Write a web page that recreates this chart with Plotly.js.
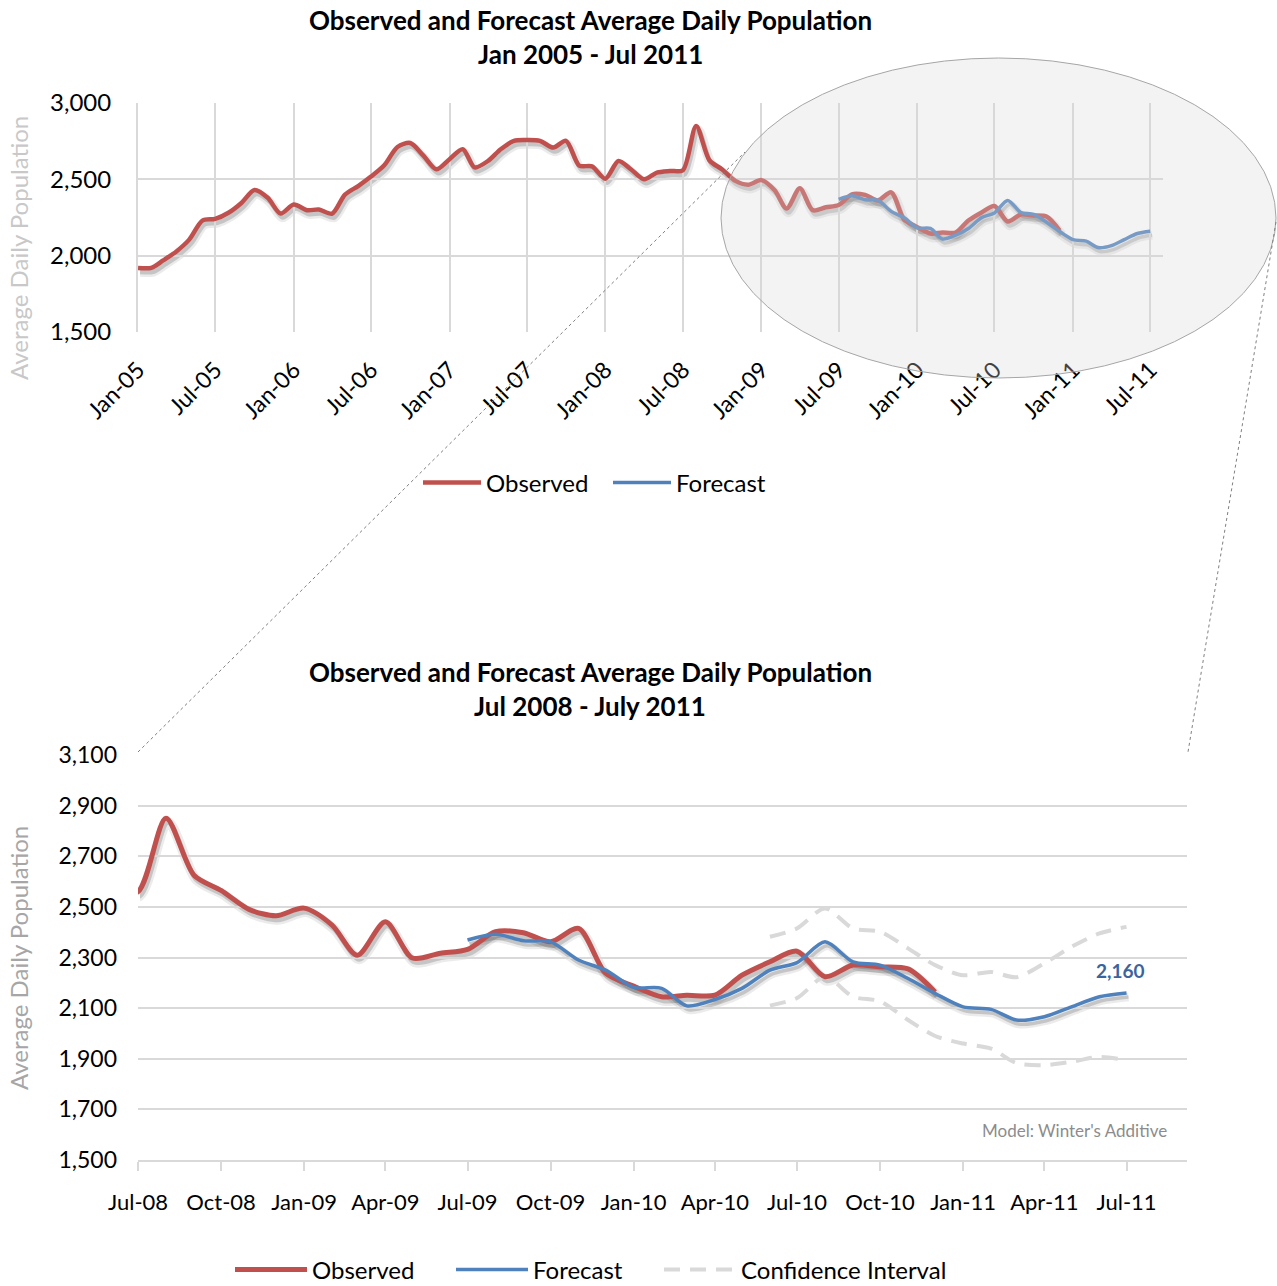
<!DOCTYPE html>
<html><head><meta charset="utf-8">
<script src="https://cdn.plot.ly/plotly-3.0.1.min.js"></script>
<style>html,body{margin:0;padding:0;background:#fff;width:1277px;height:1286px;overflow:hidden}#chart{width:1277px;height:1300px;position:absolute;left:0;top:0}</style>
</head><body><div id="chart"></div>
<script>
// ---- data ----
const obsMonths = [
 '2005-01','2005-02','2005-03','2005-04','2005-05','2005-06','2005-07','2005-08','2005-09','2005-10','2005-11','2005-12',
 '2006-01','2006-02','2006-03','2006-04','2006-05','2006-06','2006-07','2006-08','2006-09','2006-10','2006-11','2006-12',
 '2007-01','2007-02','2007-03','2007-04','2007-05','2007-06','2007-07','2007-08','2007-09','2007-10','2007-11','2007-12',
 '2008-01','2008-02','2008-03','2008-04','2008-05','2008-06','2008-07','2008-08','2008-09','2008-10','2008-11','2008-12',
 '2009-01','2009-02','2009-03','2009-04','2009-05','2009-06','2009-07','2009-08','2009-09','2009-10','2009-11','2009-12',
 '2010-01','2010-02','2010-03','2010-04','2010-05','2010-06','2010-07','2010-08','2010-09','2010-10','2010-11','2010-12'];
const observed = [
 1920,1920,1969,2028,2105,2230,2241,2281,2347,2430,2379,2276,
 2335,2298,2302,2276,2400,2456,2518,2592,2712,2738,2655,2566,
 2632,2697,2578,2620,2697,2752,2757,2752,2708,2752,2590,2585,
 2504,2620,2566,2500,2544,2555,2560,2850,2625,2565,2490,2465,
 2495,2428,2309,2441,2298,2317,2332,2402,2398,2362,2415,2238,
 2187,2145,2151,2151,2230,2283,2325,2224,2270,2263,2255,2164];
const fcMonths = [
 '2009-07','2009-08','2009-09','2009-10','2009-11','2009-12',
 '2010-01','2010-02','2010-03','2010-04','2010-05','2010-06','2010-07','2010-08','2010-09','2010-10','2010-11','2010-12',
 '2011-01','2011-02','2011-03','2011-04','2011-05','2011-06','2011-07'];
const forecast = [
 2369,2392,2366,2362,2290,2250,
 2182,2178,2109,2134,2178,2250,2280,2362,2283,2270,2217,2158,
 2105,2095,2053,2066,2105,2145,2160];
const ciMonths = ['2010-06','2010-07','2010-08','2010-09','2010-10','2010-11','2010-12',
 '2011-01','2011-02','2011-03','2011-04','2011-05','2011-06','2011-07'];
const ciUpper = [2382,2415,2494,2415,2402,2336,2270,2230,2243,2222,2277,2342,2395,2421];
const ciLower = [2110,2140,2224,2145,2127,2053,1990,1960,1940,1883,1875,1888,1907,1894];

const topTitle = ['Observed and Forecast Average Daily Population','Jan 2005 - Jul 2011'];
const botTitle = ['Observed and Forecast Average Daily Population','Jul 2008 - July 2011'];
const yTitle = 'Average Daily Population';
const modelNote = "Model: Winter's Additive";

// ---- styling ----
const FONT = 'Lato, "Open Sans", sans-serif';
const W = 1277, H = 1300; // figure is slightly taller than the window; the page clips it at 1286
const px = x => x / W, py = y => 1 - y / H;
const RED = '#c0504d', BLUE = '#4f81bd', GRID = '#d9d9d9', CI = '#d9d9d9';
const SH_DX = 2, SH_DY = 4; // drop-shadow offset in px

// plot areas (pixels)
const TOP = {l: 138, r: 1163, t: 103, b: 332};
const BOT = {l: 138, r: 1187, t: 755, b: 1160};
const TOP_XR = ['2005-01-01', '2011-07-31'], TOP_YR = [1500, 3000];
const BOT_XR = ['2008-07-01', '2011-09-06'], BOT_YR = [1500, 3100];

const spl = {shape: 'spline', smoothing: 0.8};
const line = (color, width, extra) => Object.assign({color, width}, spl, extra || {});
const shadowTraces = (xa, ya, wObs, wFc) => [
 {x: obsMonths, y: observed, xaxis: xa, yaxis: ya, type: 'scatter', mode: 'lines', showlegend: false, hoverinfo: 'skip', line: line('rgba(0,0,0,0.08)', wObs + 5)},
 {x: obsMonths, y: observed, xaxis: xa, yaxis: ya, type: 'scatter', mode: 'lines', showlegend: false, hoverinfo: 'skip', line: line('rgba(0,0,0,0.16)', wObs)},
 {x: fcMonths, y: forecast, xaxis: xa, yaxis: ya, type: 'scatter', mode: 'lines', showlegend: false, hoverinfo: 'skip', line: line('rgba(0,0,0,0.08)', wFc + 5)},
 {x: fcMonths, y: forecast, xaxis: xa, yaxis: ya, type: 'scatter', mode: 'lines', showlegend: false, hoverinfo: 'skip', line: line('rgba(0,0,0,0.16)', wFc)}
];

const traces = [].concat(
 shadowTraces('x', 'y', 4.5, 3.5),
 shadowTraces('x2', 'y2', 5, 3.5),
 [
 {x: obsMonths, y: observed, name: 'Observed', type: 'scatter', mode: 'lines', xaxis: 'x3', yaxis: 'y3', legend: 'legend', line: line(RED, 4.5)},
 {x: fcMonths, y: forecast, name: 'Forecast', type: 'scatter', mode: 'lines', xaxis: 'x3', yaxis: 'y3', legend: 'legend', line: line(BLUE, 3.5)},
 {x: ciMonths, y: ciUpper, name: 'Confidence Interval', type: 'scatter', mode: 'lines', xaxis: 'x4', yaxis: 'y4', legend: 'legend3', legendgroup: 'ci',
  line: line(CI, 4, {dash: '16px,10px'})},
 {x: ciMonths, y: ciLower, name: 'Confidence Interval', type: 'scatter', mode: 'lines', xaxis: 'x4', yaxis: 'y4', legend: 'legend3', legendgroup: 'ci', showlegend: false,
  line: line(CI, 4, {dash: '16px,10px'})},
 {x: obsMonths, y: observed, name: 'Observed', type: 'scatter', mode: 'lines', xaxis: 'x4', yaxis: 'y4', legend: 'legend2', line: line(RED, 5)},
 {x: fcMonths, y: forecast, name: 'Forecast', type: 'scatter', mode: 'lines', xaxis: 'x4', yaxis: 'y4', legend: 'legend2', line: line(BLUE, 3.5)}
 ]);

const bold = t => '<b>' + t + '</b>';
const lastF = forecast[forecast.length - 1];
const legendBase = {orientation: 'h', xanchor: 'left', yanchor: 'middle', font: {size: 24}, bgcolor: 'rgba(0,0,0,0)', traceorder: 'normal'};
const hiddenAx = (dom, anchor, range, type) => ({domain: dom, anchor, range, type, visible: false, fixedrange: true});

const layout = {
 width: W, height: H, margin: {l: 0, r: 0, t: 0, b: 0, pad: 0},
 paper_bgcolor: '#fff', plot_bgcolor: 'rgba(0,0,0,0)',
 font: {family: FONT, color: '#000', size: 20},
 showlegend: true,
 // shadow subplots (drawn first, offset by a few pixels)
 xaxis: hiddenAx([px(TOP.l + SH_DX), px(TOP.r + SH_DX)], 'y', TOP_XR, 'date'),
 yaxis: hiddenAx([py(TOP.b + SH_DY), py(TOP.t + SH_DY)], 'x', TOP_YR, 'linear'),
 xaxis2: hiddenAx([px(BOT.l + SH_DX), px(BOT.r + SH_DX)], 'y2', BOT_XR, 'date'),
 yaxis2: hiddenAx([py(BOT.b + SH_DY), py(BOT.t + SH_DY)], 'x2', BOT_YR, 'linear'),
 // visible charts
 xaxis3: {domain: [px(TOP.l), px(TOP.r)], anchor: 'y3', type: 'date', range: TOP_XR,
  tick0: '2005-01-01', dtick: 'M6', tickformat: '%b-%y', tickangle: -45, tickfont: {size: 23},
  showgrid: true, gridcolor: GRID, gridwidth: 2, zeroline: false, showline: false, ticks: '', ticklabelstandoff: 19},
 yaxis3: {domain: [py(TOP.b), py(TOP.t)], anchor: 'x3', range: TOP_YR, tick0: 1500, dtick: 500, tickformat: ',',
  tickfont: {size: 24}, showgrid: true, gridcolor: GRID, gridwidth: 2, zeroline: false, ticks: '', ticklabelstandoff: 20,
  showline: true, linecolor: GRID, linewidth: 2},
 xaxis4: {domain: [px(BOT.l), px(BOT.r)], anchor: 'y4', type: 'date', range: BOT_XR,
  tick0: '2008-07-01', dtick: 'M3', tickformat: '%b-%y', tickangle: 0, tickfont: {size: 22},
  showgrid: false, zeroline: false, showline: true, linecolor: GRID, linewidth: 2,
  ticks: 'outside', ticklen: 9, tickcolor: GRID, tickwidth: 2, ticklabelstandoff: 13},
 yaxis4: {domain: [py(BOT.b), py(BOT.t)], anchor: 'x4', range: BOT_YR, tick0: 1500, dtick: 200, tickformat: ',',
  tickfont: {size: 23}, showgrid: true, gridcolor: GRID, gridwidth: 2, zeroline: false, ticks: '', ticklabelstandoff: 20},
 legend: Object.assign({}, legendBase, {x: px(418), y: py(483), itemwidth: 58, entrywidth: 117}),
 legend2: Object.assign({}, legendBase, {x: px(230), y: py(1270), itemwidth: 72, entrywidth: 134}),
 legend3: Object.assign({}, legendBase, {x: px(659), y: py(1270), itemwidth: 72}),
 annotations: [
  {xref: 'paper', yref: 'paper', x: px(590), y: py(20), text: bold(topTitle[0]), showarrow: false, font: {size: 26}, xanchor: 'center', yanchor: 'middle'},
  {xref: 'paper', yref: 'paper', x: px(590), y: py(54), text: bold(topTitle[1]), showarrow: false, font: {size: 26}, xanchor: 'center', yanchor: 'middle'},
  {xref: 'paper', yref: 'paper', x: px(590), y: py(672), text: bold(botTitle[0]), showarrow: false, font: {size: 26}, xanchor: 'center', yanchor: 'middle'},
  {xref: 'paper', yref: 'paper', x: px(590), y: py(706), text: bold(botTitle[1]), showarrow: false, font: {size: 26}, xanchor: 'center', yanchor: 'middle'},
  {xref: 'paper', yref: 'paper', x: px(18), y: py(248), text: yTitle, textangle: -90, showarrow: false, font: {size: 24, color: '#c8c8c8'}, xanchor: 'center', yanchor: 'middle'},
  {xref: 'paper', yref: 'paper', x: px(18), y: py(958), text: yTitle, textangle: -90, showarrow: false, font: {size: 24, color: '#a6a6a6'}, xanchor: 'center', yanchor: 'middle'},
  {xref: 'x4', yref: 'y4', x: fcMonths[fcMonths.length - 1], y: lastF, text: bold(lastF.toLocaleString('en-US')), showarrow: false,
   yshift: 22, xshift: -6, font: {size: 19, color: '#3a64a0'}, xanchor: 'center', yanchor: 'middle'},
  {xref: 'paper', yref: 'paper', x: px(1074), y: py(1130), text: modelNote, showarrow: false, font: {size: 17, color: '#8c8c8c'}, xanchor: 'center', yanchor: 'middle'}
 ],
 shapes: [
  {type: 'circle', xref: 'paper', yref: 'paper', x0: px(721), x1: px(1276), y0: py(378), y1: py(58),
   fillcolor: 'rgba(215,215,215,0.3)', line: {color: '#a6a6a6', width: 1}, layer: 'above'},
  {type: 'line', xref: 'paper', yref: 'paper', x0: px(138), y0: py(752), x1: px(745), y1: py(152),
   line: {color: '#7f7f7f', width: 1, dash: 'dot'}, layer: 'above'},
  {type: 'line', xref: 'paper', yref: 'paper', x0: px(1276), y0: py(222), x1: px(1188), y1: py(752),
   line: {color: '#7f7f7f', width: 1, dash: 'dot'}, layer: 'above'}
 ]
};

Plotly.newPlot('chart', traces, layout, {staticPlot: true});
</script>
</body></html>
